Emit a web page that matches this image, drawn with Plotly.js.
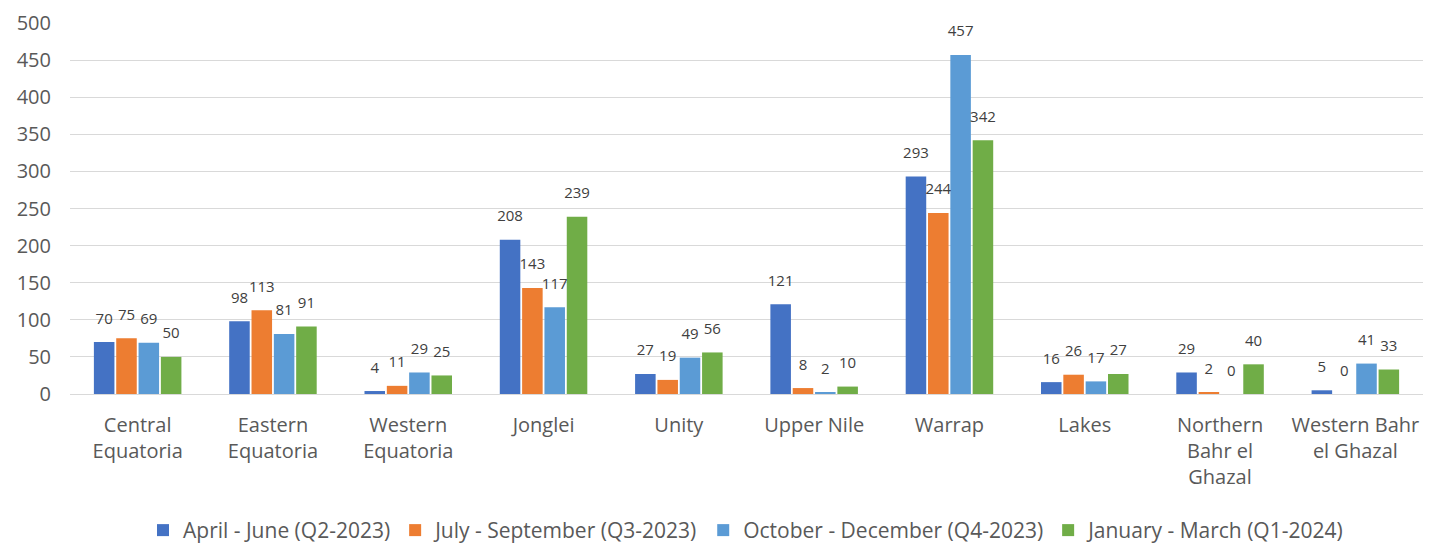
<!DOCTYPE html>
<html>
<head>
<meta charset="utf-8">
<script src="https://cdn.plot.ly/plotly-3.0.1.min.js"></script>
<style>body{margin:0;background:#fff}#myDiv{width:1431px;height:548px}</style>
</head>
<body>
<div id="myDiv"></div>
<script>
var states = ['Central<br>Equatoria', 'Eastern<br>Equatoria', 'Western<br>Equatoria', 'Jonglei', 'Unity',
  'Upper Nile', 'Warrap', 'Lakes', 'Northern<br>Bahr el<br>Ghazal', 'Western Bahr<br>el Ghazal'];
var q2_2023 = [70, 98, 4, 208, 27, 121, 293, 16, 29, 5];
var q3_2023 = [75, 113, 11, 143, 19, 8, 244, 26, 2, 0];
var q4_2023 = [69, 81, 29, 117, 49, 2, 457, 17, 0, 41];
var q1_2024 = [50, 91, 25, 239, 56, 10, 342, 27, 40, 33];

var names = ['April - June (Q2-2023)', 'July - September (Q3-2023)', 'October - December (Q4-2023)', 'January - March (Q1-2024)'];
var colors = ['#4472C4', '#ED7D31', '#5B9BD5', '#70AD47'];
var series = [q2_2023, q3_2023, q4_2023, q1_2024];

var data = [];
series.forEach(function (vals, i) {
  data.push({
    x: states,
    y: vals,
    type: 'bar',
    name: names[i],
    marker: { color: colors[i] },
    hoverinfo: 'y'
  });
});
// value labels, lifted a little above the bar tops
series.forEach(function (vals, i) {
  data.push({
    x: states,
    y: vals,
    type: 'scatter',
    mode: 'markers+text',
    marker: { size: 22, opacity: 0 },
    text: vals.map(String),
    textposition: 'top center',
    textfont: { size: 15, color: '#404040' },
    cliponaxis: false,
    showlegend: false,
    hoverinfo: 'skip'
  });
});

var layout = {
  font: { family: '"Open Sans", sans-serif', color: '#595959' },
  margin: { l: 70, r: 8, t: 23, b: 154 },
  barmode: 'group',
  bargap: 0.34,
  bargroupgap: 0.08,
  scattermode: 'group',
  scattergap: 0.34,
  showlegend: true,
  legend: {
    orientation: 'h',
    x: 0.5, xanchor: 'center',
    yref: 'container',
    y: 0.032, yanchor: 'middle',
    font: { size: 21, color: '#595959' },
    traceorder: 'normal',
    itemwidth: 30
  },
  xaxis: {
    automargin: false,
    tickfont: { size: 20, color: '#595959' },
    showline: false,
    ticks: '',
    ticklabelstandoff: 17
  },
  yaxis: {
    automargin: false,
    range: [0, 500],
    dtick: 50,
    gridcolor: '#D9D9D9',
    zeroline: true,
    zerolinecolor: '#D9D9D9',
    tickfont: { size: 20, color: '#595959' },
    ticks: '',
    ticklabelstandoff: 18
  },
  paper_bgcolor: '#fff',
  plot_bgcolor: '#fff'
};

Plotly.newPlot('myDiv', data, layout, { displayModeBar: false });
</script>
</body>
</html>
